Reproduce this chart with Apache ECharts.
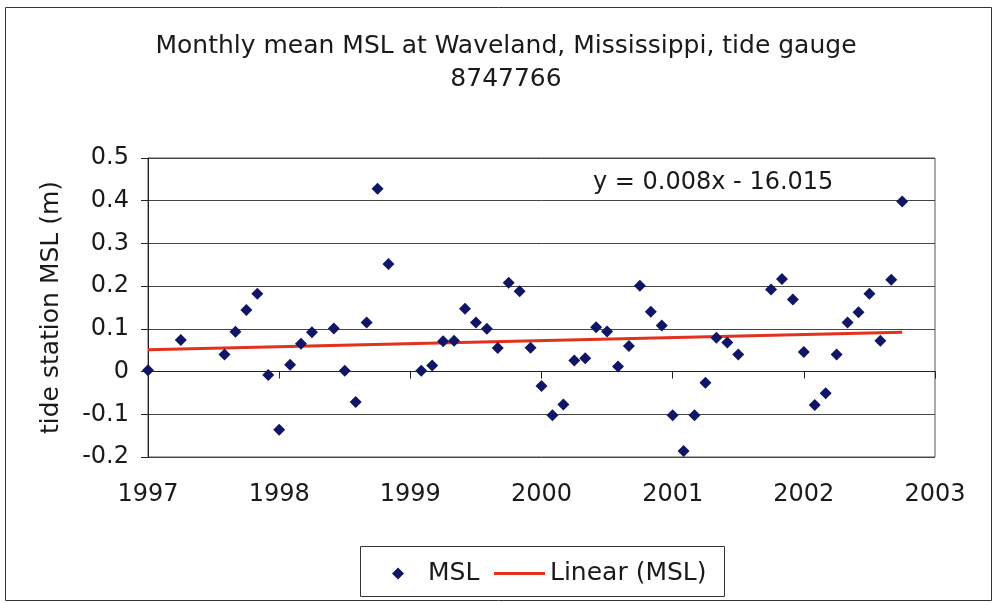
<!DOCTYPE html>
<html>
<head>
<meta charset="utf-8">
<script src="https://cdn.jsdelivr.net/npm/echarts@6/dist/echarts.min.js"></script>
<style>html,body{margin:0;padding:0;background:#fff;}#chart{width:993px;height:603px;}</style>
</head>
<body>
<div id="chart"></div>
<script>
// Data
const months = ["1997-01","1997-04","1997-08","1997-09","1997-10","1997-11","1997-12",
  "1998-01","1998-02","1998-03","1998-04","1998-06","1998-07","1998-08","1998-09","1998-10","1998-11",
  "1999-02","1999-03","1999-04","1999-05","1999-06","1999-07","1999-08","1999-09","1999-10","1999-11","1999-12",
  "2000-01","2000-02","2000-03","2000-04","2000-05","2000-06","2000-07","2000-08","2000-09","2000-10","2000-11","2000-12",
  "2001-01","2001-02","2001-03","2001-04","2001-05","2001-06","2001-07","2001-10","2001-11","2001-12",
  "2002-01","2002-02","2002-03","2002-04","2002-05","2002-06","2002-07","2002-08","2002-09","2002-10"];
const mslValues = [0.003,0.074,0.040,0.093,0.144,0.182,-0.008,
  -0.136,0.016,0.065,0.092,0.101,0.002,-0.071,0.115,0.428,0.252,
  0.002,0.014,0.071,0.072,0.147,0.115,0.100,0.055,0.208,0.188,0.056,
  -0.034,-0.102,-0.077,0.026,0.031,0.104,0.094,0.012,0.060,0.201,0.140,0.108,
  -0.102,-0.186,-0.102,-0.026,0.079,0.068,0.040,0.192,0.217,0.169,
  0.046,-0.078,-0.051,0.040,0.115,0.139,0.182,0.072,0.215,0.398];
const trendX = [1997, 2002.75];
const trendY = [0.051, 0.092];
const titleLines = ["Monthly mean MSL at Waveland, Mississippi, tide gauge", "8747766"];
const equationText = "y = 0.008x - 16.015";
const yAxisName = "tide station MSL (m)";
const seriesNames = ["MSL", "Linear (MSL)"];

const FONT = "DejaVu Sans";
function toYear(s){ const p = s.split("-"); return +p[0] + (+p[1]-1)/12; }
const scatterData = months.map((m,i)=>[toYear(m), mslValues[i]]);
const trendData = trendX.map((x,i)=>[x, trendY[i]]);

const chart = echarts.init(document.getElementById('chart'), null, {renderer:'canvas'});
chart.setOption({
  animation:false,
  backgroundColor:'#fff',
  title:{
    text: titleLines.join("\n"),
    left: 501, top: 25, textAlign:'center',
    textStyle:{fontFamily:FONT, fontSize:25, fontWeight:'normal', color:'#1a1a1a', lineHeight:33}
  },
  grid:{left:148, right:58, top:158, bottom:146, show:true, borderColor:'#555', borderWidth:1},
  xAxis:{
    type:'value', min:1997, max:2003, interval:1,
    axisLine:{lineStyle:{color:'#222', width:1}},
    axisTick:{show:true, length:7, lineStyle:{color:'#222'}},
    axisLabel:{margin:26, fontFamily:FONT, fontSize:24, color:'#1a1a1a', formatter:v=>String(Math.round(v))},
    splitLine:{show:false}
  },
  yAxis:{
    type:'value', min:-0.2, max:0.5, interval:0.1,
    name: yAxisName, nameLocation:'middle', nameGap:84, nameRotate:90,
    nameTextStyle:{fontFamily:FONT, fontSize:25, color:'#1a1a1a'},
    axisLine:{show:true, lineStyle:{color:'#222', width:1}},
    axisTick:{show:true, length:7, lineStyle:{color:'#222'}},
    axisLabel:{margin:19, fontFamily:FONT, fontSize:24, color:'#1a1a1a', formatter:v=>String(+v.toFixed(1))},
    splitLine:{show:true, lineStyle:{color:'#444', width:1}}
  },
  legend:[
    {data:[{name:seriesNames[0], icon:'diamond'}], left:387, top:556, itemWidth:12, itemHeight:12,
     textStyle:{fontFamily:FONT, fontSize:25, color:'#1a1a1a', padding:[0,0,0,19]}, selectedMode:false},
    {data:[{name:seriesNames[1], icon:'rect'}], left:489, top:556, itemWidth:51, itemHeight:3,
     textStyle:{fontFamily:FONT, fontSize:25, color:'#1a1a1a'}, selectedMode:false}
  ],
  graphic:[
    {type:'rect', left:3, top:5, shape:{width:986, height:593}, style:{fill:'none', stroke:'#333', lineWidth:1}, silent:true, z:-1},
    {type:'rect', left:358, top:544, shape:{width:364, height:50}, style:{fill:'none', stroke:'#333', lineWidth:1}, silent:true},
    {type:'text', left:593, top:171, style:{text:equationText, font:'24px "DejaVu Sans"', fill:'#1a1a1a'}, silent:true}
  ],
  series:[
    {name:seriesNames[0], type:'scatter', data:scatterData, symbol:'diamond', symbolSize:12,
     itemStyle:{color:'#101565', opacity:1}, z:3},
    {name:seriesNames[1], type:'line', data:trendData, symbol:'none', showSymbol:false,
     lineStyle:{color:'#e2311d', width:3}, itemStyle:{color:'#e2311d'}, z:2}
  ]
});
</script>
</body>
</html>
